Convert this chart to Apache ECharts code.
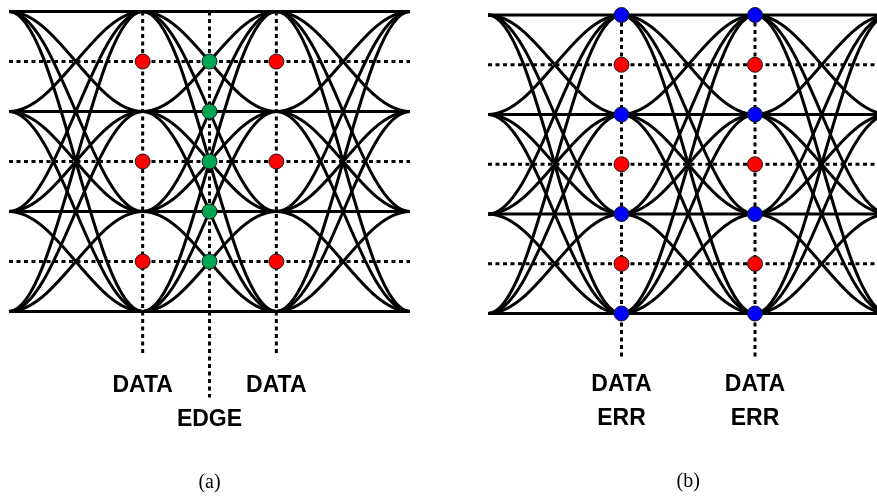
<!DOCTYPE html>
<html>
<head>
<meta charset="utf-8">
<script src="https://cdn.jsdelivr.net/npm/echarts@6/dist/echarts.min.js"></script>
<style>
html,body{margin:0;padding:0;background:#fff;}
#chart{width:877px;height:497px;}
</style>
</head>
<body>
<div id="chart"></div>
<script>
// ---- data ----
const levels = [0, 1, 2, 3];              // PAM4 levels (0 = top)
const uiStarts = [0, 1, 2];               // unit intervals (eye centres at 0..3)
const thresholds = [0.5, 1.5, 2.5];       // decision thresholds
const dataPhases = [1, 2];                // data sampling phases (UI)
const edgePhase = [1.5];                  // edge sampling phase (panel a)
const edgeLevels = [0.5, 1, 1.5, 2, 2.5]; // edge sampler levels (panel a)
const errLevels = [0, 1, 2, 3];           // error sampler levels (panel b)
const dataLineEnd = 3.44;                 // bottom of DATA dotted guides
const edgeLineEnd = 3.86;                 // bottom of EDGE dotted guide
const labelsA = [['DATA', 1, 3.74], ['DATA', 2, 3.74], ['EDGE', 1.5, 4.08]];
const labelsB = [['DATA', 1, 3.72], ['DATA', 2, 3.72], ['ERR', 1, 4.06], ['ERR', 2, 4.06]];
const captions = [['(a)', 1.5, 4.71], ['(b)', 1.5, 4.69]];

// ---- build ----
const transitions = [];
uiStarts.forEach(s => levels.forEach(a => levels.forEach(b => transitions.push([s, a, b]))));

function grid2(xs, ys) { const r = []; xs.forEach(x => ys.forEach(y => r.push([x, y]))); return r; }

const DOT = [4, 3.5];
function dotted(idx, pts) {
  return {
    type: 'line', xAxisIndex: idx, yAxisIndex: idx, data: pts, symbol: 'none', clip: false,
    lineStyle: { color: '#000', width: 3, type: DOT }, silent: true, z: 1, animation: false
  };
}
function eye(idx) {
  return {
    type: 'custom', xAxisIndex: idx, yAxisIndex: idx, data: transitions, z: 2, clip: false,
    silent: true, animation: false,
    renderItem: function (params, api) {
      const s = api.value(0), a = api.value(1), b = api.value(2);
      const p0 = api.coord([s, a]);
      const p1 = api.coord([s + 1, b]);
      const d = (p1[0] - p0[0]) * 0.363;
      return {
        type: 'bezierCurve',
        shape: { x1: p0[0], y1: p0[1], x2: p1[0], y2: p1[1],
                 cpx1: p0[0] + d, cpy1: p0[1], cpx2: p1[0] - d, cpy2: p1[1] },
        style: { stroke: '#000', lineWidth: 3, fill: null }
      };
    }
  };
}
function dots(idx, pts, color) {
  return {
    type: 'scatter', xAxisIndex: idx, yAxisIndex: idx, data: pts, symbolSize: 15, z: 5, clip: false,
    itemStyle: { color: color, borderColor: '#1a1a1a', borderWidth: 1, opacity: 1 },
    silent: true, animation: false
  };
}
function labels(idx, items, font, size, weight) {
  return {
    type: 'scatter', xAxisIndex: idx, yAxisIndex: idx, symbolSize: 1, z: 6, silent: true, animation: false,
    clip: false,
    itemStyle: { color: 'rgba(0,0,0,0)', opacity: 1 },
    data: items.map(t => ({ value: [t[1], t[2]], name: t[0] })),
    label: { show: true, position: 'inside', formatter: p => p.name, color: '#000',
             textBorderWidth: 0, opacity: 1,
             fontFamily: font, fontSize: size, fontWeight: weight }
  };
}

const series = [];
[0, 1].forEach(i => {
  thresholds.forEach(t => series.push(dotted(i, [[0, t], [3, t]])));
});
dataPhases.forEach(x => series.push(dotted(0, [[x, 0], [x, dataLineEnd]])));
edgePhase.forEach(x => series.push(dotted(0, [[x, 0], [x, edgeLineEnd]])));
dataPhases.forEach(x => series.push(dotted(1, [[x, 0], [x, dataLineEnd]])));
series.push(eye(0), eye(1));
series.push(dots(0, grid2(dataPhases, thresholds), '#ff0000'));
series.push(dots(0, grid2(edgePhase, edgeLevels), '#00a651'));
series.push(dots(1, grid2(dataPhases, thresholds), '#ff0000'));
series.push(dots(1, grid2(dataPhases, errLevels), '#0000ff'));
series.push(labels(0, labelsA, '"Liberation Sans", Arial, sans-serif', 23, 'bold'));
series.push(labels(1, labelsB, '"Liberation Sans", Arial, sans-serif', 23, 'bold'));
series.push(labels(0, [captions[0]], '"Liberation Serif", "Times New Roman", serif', 20, 'normal'));
series.push(labels(1, [captions[1]], '"Liberation Serif", "Times New Roman", serif', 20, 'normal'));

const chart = echarts.init(document.getElementById('chart'), null, { renderer: 'canvas' });
chart.setOption({
  backgroundColor: '#fff',
  animation: false,
  grid: [
    { left: 9, top: 11.5, width: 401, height: 480, outerBoundsMode: 'none', containLabel: false },
    { left: 488, top: 15, width: 387.15, height: 477.6, outerBoundsMode: 'none', containLabel: false }
  ],
  xAxis: [
    { gridIndex: 0, type: 'value', min: 0, max: 3, show: false },
    { gridIndex: 1, type: 'value', min: 0, max: 2.9, show: false }
  ],
  yAxis: [
    { gridIndex: 0, type: 'value', min: 0, max: 4.8, inverse: true, show: false },
    { gridIndex: 1, type: 'value', min: 0, max: 4.8, inverse: true, show: false }
  ],
  series: series
});
</script>
</body>
</html>
